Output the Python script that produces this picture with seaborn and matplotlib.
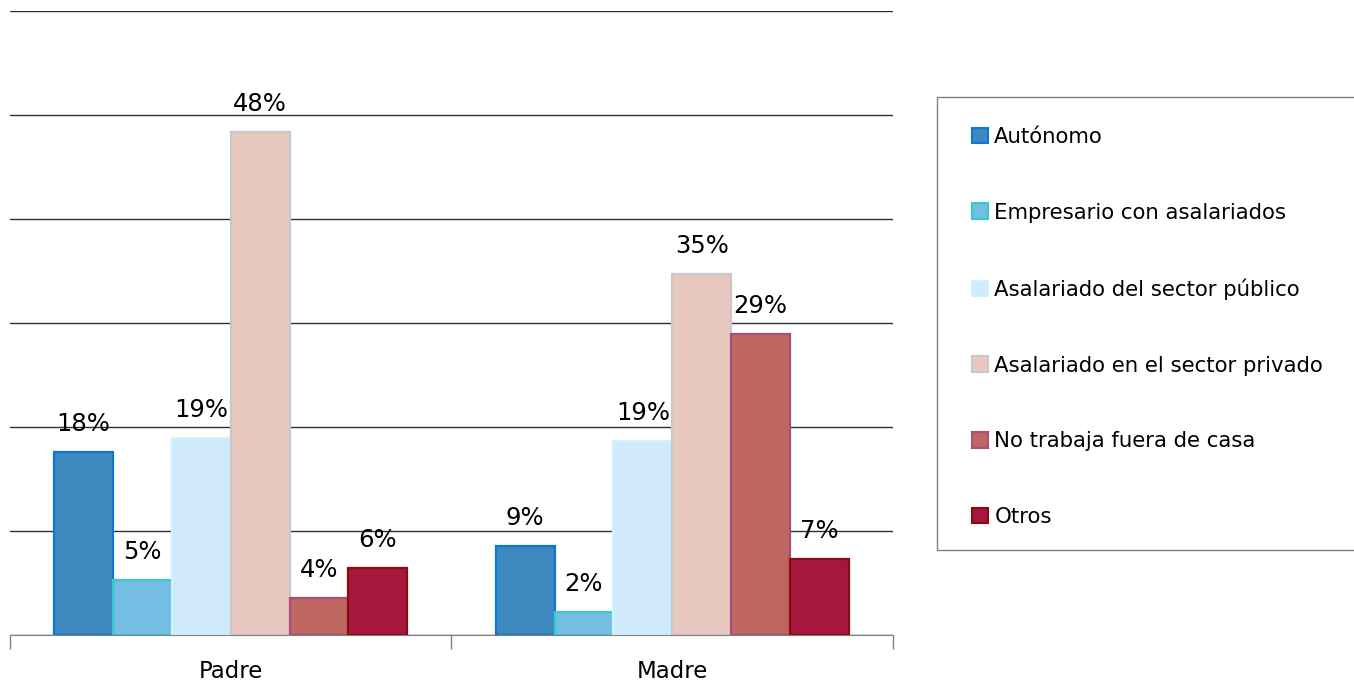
import pandas as pd
import seaborn as sns
import matplotlib.pyplot as plt
from matplotlib.patches import Patch, Rectangle

# datos (porcentajes)
grupos = ["Padre", "Madre"]
categorias = ["Autónomo", "Empresario con asalariados", "Asalariado del sector público",
              "Asalariado en el sector privado", "No trabaja fuera de casa", "Otros"]
padre = [17.6, 5.3, 18.9, 48.4, 3.6, 6.4]
madre = [8.6, 2.2, 18.7, 34.7, 28.9, 7.3]

colores_relleno = ["#3d88be", "#74bde3", "#d0eafb", "#e8c8be", "#be6760", "#a5173d"]
colores_borde = ["#0a78d7", "#33cccc", "#ccf4ff", "#c8c8c8", "#a84d7c", "#8b0a0a"]

df = pd.DataFrame({
    "Grupo": ["Padre"] * len(padre) + ["Madre"] * len(madre),
    "Categoria": categorias * 2,
    "Valor": padre + madre,
})

sns.set_style("white")
plt.rcParams['font.family'] = ['DejaVu Sans']
plt.rcParams['text.color'] = 'black'
plt.rcParams['xtick.color'] = 'black'
plt.rcParams['xtick.labelcolor'] = 'black'

fig = plt.figure(figsize=(13.54, 6.85), dpi=100)
ax = fig.add_axes([10 / 1354, 50 / 685, 883 / 1354, 624 / 685])

sns.barplot(data=df, x="Grupo", y="Valor", hue="Categoria", order=grupos, hue_order=categorias,
            palette=dict(zip(categorias, colores_relleno)), width=0.8, legend=False,
            errorbar=None, saturation=1, ax=ax)

# bordes y etiquetas de cada serie
for cont, borde in zip(ax.containers, colores_borde):
    for barra in cont:
        barra.set_edgecolor(borde)
        barra.set_linewidth(1.6)
    ax.bar_label(cont, labels=[f"{b.get_height():.0f}%" for b in cont], padding=11.5,
                 fontsize=17.5, color='black')

# ejes
ax.set_ylim(0, 60)
ax.set_xlim(-0.5, 1.5)
ax.set_yticks(range(0, 70, 10))
ax.set_yticklabels([])
ax.tick_params(axis='y', length=0)
ax.yaxis.grid(True, color='#303030', linewidth=1)
ax.set_axisbelow(True)
ax.set_xlabel(None)
ax.set_ylabel(None)

ax.set_xticks([-0.5, 0.5, 1.5])
ax.set_xticklabels(["", "", ""])
ax.tick_params(axis='x', which='major', bottom=True, length=10, width=1, color='#808080',
               direction='out')
ax.set_xticks([0, 1], minor=True)
ax.set_xticklabels(grupos, minor=True, fontsize=16.5, color='black')
ax.tick_params(axis='x', which='minor', bottom=True, length=0, pad=18)

sns.despine(ax=ax, left=True, top=True, right=True)
ax.spines['bottom'].set_color('#808080')

# leyenda
handles = [Patch(facecolor=f, edgecolor=e, linewidth=1.5) for f, e in zip(colores_relleno, colores_borde)]
fig.legend(handles, categorias, loc="upper left", bbox_to_anchor=(972 / 1354, 1 - 127 / 685),
           frameon=False, fontsize=15.3, handlelength=0.75, handleheight=0.75, handletextpad=0.3,
           labelspacing=2.62, borderpad=0, borderaxespad=0, labelcolor='black')
fig.add_artist(Rectangle((937 / 1354, (685 - 550) / 685), (1370 - 937) / 1354, (550 - 97) / 685,
                         transform=fig.transFigure, fill=False, edgecolor='#808080', linewidth=1))

plt.savefig("out.png", dpi=100)
